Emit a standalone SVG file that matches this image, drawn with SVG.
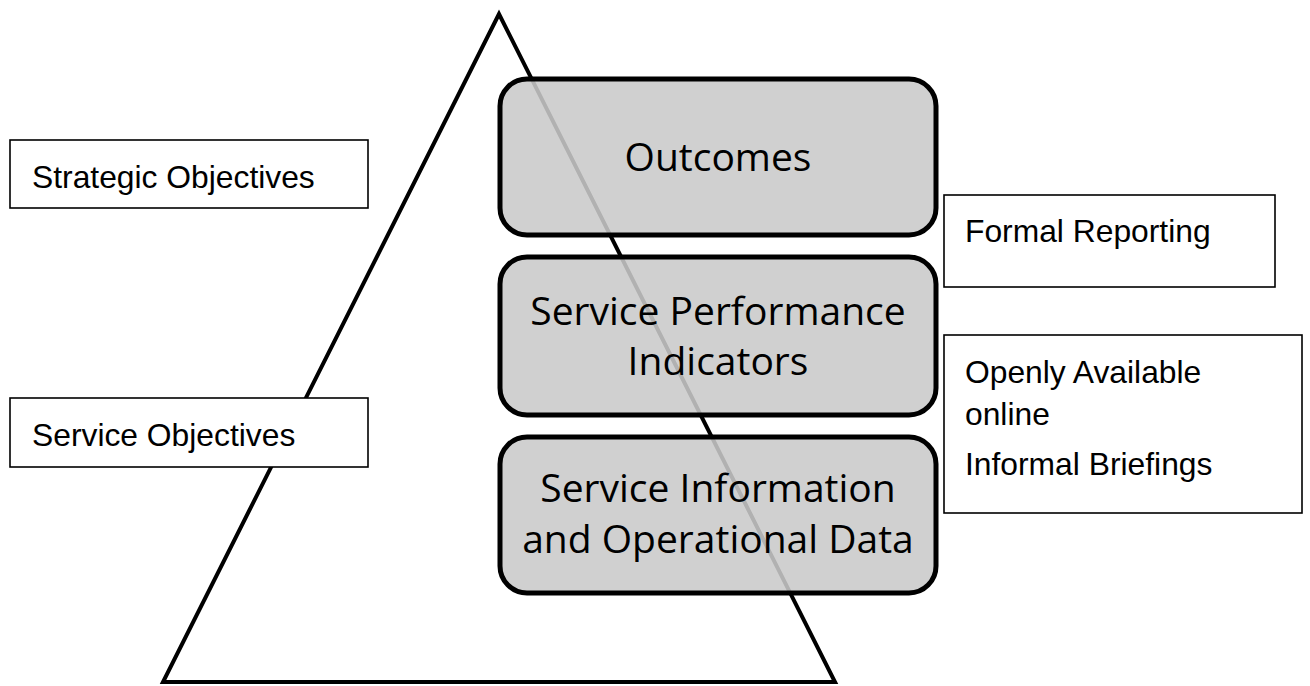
<svg xmlns="http://www.w3.org/2000/svg" width="1310" height="686" viewBox="0 0 1310 686">
<style>
.tri{fill:none;stroke:#000;stroke-width:4;stroke-linejoin:miter}
.gbox{fill:rgb(201,201,201);fill-opacity:0.88;stroke:#000;stroke-width:5}
.wbox{fill:#fff;stroke:#000;stroke-width:1.6}
.gt{font-family:"Open Sans","Noto Sans",sans-serif;font-size:39px;fill:#000;text-anchor:middle}
.wt{font-family:"Liberation Sans",Arial,sans-serif;font-size:31.8px;fill:#000}
</style>
<rect width="1310" height="686" fill="#fff"/>
<g id="pyramid">
<polygon class="tri" points="499,14 163,682 835,682"/>
</g>
<g id="strategic-objectives">
<rect class="wbox" x="10" y="140" width="358" height="68"/>
<text class="wt" x="32" y="188">Strategic Objectives</text>
</g>
<g id="service-objectives">
<rect class="wbox" x="10" y="398" width="358" height="69"/>
<text class="wt" x="32" y="446">Service Objectives</text>
</g>
<g id="outcomes">
<rect class="gbox" x="500" y="79" width="436" height="156" rx="27" ry="27"/>
<text class="gt" x="718" y="171">Outcomes</text>
</g>
<g id="service-performance-indicators">
<rect class="gbox" x="500" y="257" width="436" height="158" rx="27" ry="27"/>
<text class="gt" x="718" y="325">Service Performance</text>
<text class="gt" x="718" y="375">Indicators</text>
</g>
<g id="service-information">
<rect class="gbox" x="500" y="437" width="436" height="156" rx="27" ry="27"/>
<text class="gt" x="718" y="502">Service Information</text>
<text class="gt" x="718" y="553">and Operational Data</text>
</g>
<g id="formal-reporting">
<rect class="wbox" x="944" y="195" width="331" height="92"/>
<text class="wt" x="965" y="242">Formal Reporting</text>
</g>
<g id="openly-available">
<rect class="wbox" x="944" y="335" width="358" height="178"/>
<text class="wt" x="965" y="383">Openly Available</text>
<text class="wt" x="965" y="425">online</text>
<text class="wt" x="965" y="475">Informal Briefings</text>
</g>
<g id="connectors"></g>
</svg>
